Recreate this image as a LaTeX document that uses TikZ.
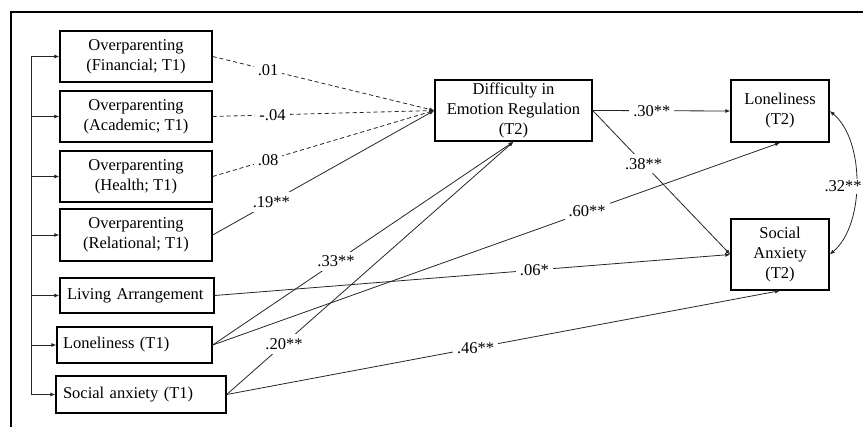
\documentclass[tikz,border=0pt]{standalone}
\usepackage{fontspec}
\setmainfont{Liberation Serif}
\usetikzlibrary{arrows.meta}

\tikzset{
  var/.style={draw, line width=1.4pt, inner sep=0pt, align=center,
    font=\fontsize{16.5}{20}\selectfont},
  varl/.style={var, align=left, inner xsep=7pt},
  arr/.style={-{Latex[length=5pt,width=4pt]}, line width=0.8pt, draw=black!85},
  ns/.style={arr, dash pattern=on 4pt off 3pt},
  coef/.style={fill=white, inner sep=4pt, font=\fontsize{16.5}{20}\selectfont},
}

\begin{document}
\begin{tikzpicture}[x=1pt,y=-1pt]
\useasboundingbox (0,0) rectangle (863,427);
% frame
\draw[line width=1.2pt] (11,427) -- (11,12) -- (863,12);

% T1 predictors
\node[var, minimum width=152pt, minimum height=51pt] (finT1) at (136,56.5) {Overparenting\\(Financial; T1)};
\node[var, minimum width=152pt, minimum height=51pt] (acaT1) at (136,116.5) {Overparenting\\(Academic; T1)};
\node[var, minimum width=152pt, minimum height=51pt] (heaT1) at (136,176.5) {Overparenting\\(Health; T1)};
\node[var, minimum width=152pt, minimum height=52pt] (relT1) at (136,235) {Overparenting\\(Relational; T1)};
\node[varl, text width=140pt, minimum height=35pt] (livT1) at (137,295.5) {Living Arrangement};
\node[varl, inner xsep=6pt, text width=143pt, minimum height=36pt] (lonT1) at (134.5,345) {Loneliness (T1)};
\node[varl, text width=156pt, minimum height=37pt] (saT1) at (141,394.5) {Social anxiety (T1)};

% mediator and outcomes
\node[var, minimum width=157pt, minimum height=61pt] (derT2) at (513.5,110.5) {Difficulty in\\Emotion Regulation\\(T2)};
\node[var, minimum width=98pt, minimum height=62pt] (lonT2) at (780,111) {Loneliness\\(T2)};
\node[var, minimum width=98pt, minimum height=71pt] (saT2) at (780,254.5) {Social\\Anxiety\\(T2)};

% bracket on the left
\coordinate (bus) at (31,0);
\draw[line width=0.8pt, draw=black!85] (bus |- finT1.west) -- (bus |- saT1.west);
\foreach \n in {finT1,acaT1,heaT1,relT1,livT1,lonT1,saT1}
  \draw[arr] (bus |- \n.west) -- (\n.west);

% paths to difficulty in emotion regulation
\draw[ns] (finT1.east) -- node[coef, pos=0.25] {.01} (derT2.west);
\draw[ns] (acaT1.east) -- node[coef, pos=0.27] {-.04} (derT2.west);
\draw[ns] (heaT1.east) -- node[coef, pos=0.25] {.08} (derT2.west);
\draw[arr] (relT1.east) -- node[coef, pos=0.265] {.19**} (derT2.west);
\draw[arr] (lonT1.east) -- node[coef, pos=0.41] {.33**} (derT2.south);
\draw[arr] (saT1.east) -- node[coef, pos=0.2] {.20**} (derT2.south);

% paths to the outcomes
\draw[arr] (derT2.east) -- node[coef, pos=0.43] {.30**} (lonT2.west);
\draw[arr] (derT2.east) -- node[coef, pos=0.37] {.38**} (saT2.west);
\draw[arr] (lonT1.east) -- node[coef, pos=0.66] {.60**} (lonT2.south);
\draw[arr] (livT1.east) -- node[coef, pos=0.62] {.06*} (saT2.west);
\draw[arr] (saT1.east) -- node[coef, pos=0.45] {.46**} (saT2.south);

% covariance
\draw[arr, {Latex[length=5pt,width=4pt]}-{Latex[length=5pt,width=4pt]}]
  (lonT2.east) .. controls (865,140) and (865,225) .. (saT2.east)
  node[coef, pos=0.5, xshift=-13pt, yshift=-4pt, inner sep=2pt] {.32**};
\end{tikzpicture}
\end{document}
